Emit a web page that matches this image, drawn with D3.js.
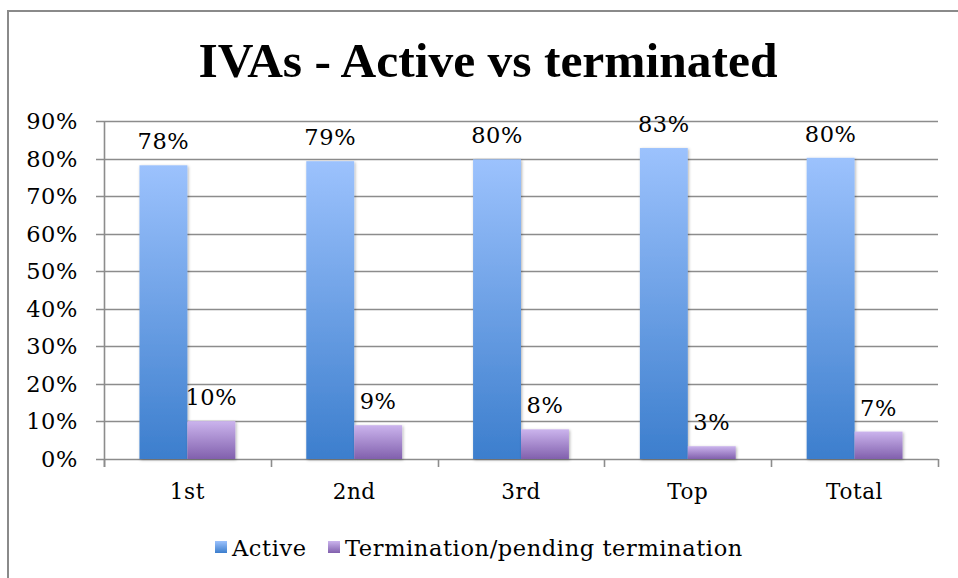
<!DOCTYPE html>
<html>
<head>
<meta charset="utf-8">
<script src="https://cdn.jsdelivr.net/npm/d3@7"></script>
<style>
  body { margin: 0; background: #fff; }
  svg { display: block; }
</style>
</head>
<body>
<div id="chart"></div>
<script>
// Chart data
var categories = ["1st", "2nd", "3rd", "Top", "Total"];
var seriesNames = ["Active", "Termination/pending termination"];
var activeValues = [0.782, 0.793, 0.798, 0.828, 0.802];
var terminatedValues = [0.101, 0.09, 0.079, 0.034, 0.073];
var yTicks = [0, 0.1, 0.2, 0.3, 0.4, 0.5, 0.6, 0.7, 0.8, 0.9];

var svgWidth = 958;
var svgHeight = 578;

var plot = { left: 104, right: 938, top: 121, bottom: 459 };

var svg = d3.select("#chart")
  .append("svg")
  .attr("width", svgWidth)
  .attr("height", svgHeight);

// gradients + shadow
var defs = svg.append("defs");
var gradA = defs.append("linearGradient").attr("id", "gradActive")
  .attr("x1", 0).attr("y1", 0).attr("x2", 0).attr("y2", 1);
gradA.append("stop").attr("offset", "0%").attr("stop-color", "#9cc2fd");
gradA.append("stop").attr("offset", "100%").attr("stop-color", "#3c7ecd");

var gradT = defs.append("linearGradient").attr("id", "gradTerm")
  .attr("x1", 0).attr("y1", 0).attr("x2", 0).attr("y2", 1);
gradT.append("stop").attr("offset", "0%").attr("stop-color", "#cbb4ed");
gradT.append("stop").attr("offset", "100%").attr("stop-color", "#8160ad");

var shadow = defs.append("filter").attr("id", "shadow")
  .attr("x", "-20%").attr("y", "-20%").attr("width", "150%").attr("height", "150%");
shadow.append("feDropShadow")
  .attr("dx", 1).attr("dy", 1).attr("stdDeviation", 1.5)
  .attr("flood-color", "#000").attr("flood-opacity", 0.3);

// outer frame
svg.append("rect")
  .attr("x", 8).attr("y", 11)
  .attr("width", 980).attr("height", 600)
  .attr("fill", "none")
  .attr("stroke", "#8a8a8a")
  .attr("stroke-width", 2);

// title
var title = svg.append("text")
  .attr("x", 488)
  .attr("y", 77)
  .attr("text-anchor", "middle")
  .style("font-family", "'Liberation Serif', serif")
  .style("font-weight", "bold")
  .style("font-size", "48px")
  .attr("fill", "#000")
  .text("IVAs - Active vs terminated");
var tw = title.node().getComputedTextLength();
title.style("font-size", (48 * 579 / tw) + "px");

// scales
var x0 = d3.scaleBand()
  .domain(categories)
  .range([plot.left, plot.right]);

var x1 = d3.scaleBand()
  .domain(seriesNames)
  .range([0, x0.bandwidth()])
  .paddingOuter(0.74);

var y = d3.scaleLinear()
  .domain([0, 0.9])
  .range([plot.bottom, plot.top]);

var labelFont = "'DejaVu Serif', serif";
var labelSize = "22.5px";
var labelSpacing = "0.6px";

// gridlines
svg.append("g")
  .selectAll("line")
  .data(yTicks)
  .enter()
  .append("line")
  .attr("x1", plot.left - 8)
  .attr("x2", plot.right)
  .attr("y1", d => Math.round(y(d)) + 0.5)
  .attr("y2", d => Math.round(y(d)) + 0.5)
  .attr("stroke", "#8c8c8c")
  .attr("stroke-width", 1.6);

// y axis line
svg.append("line")
  .attr("x1", plot.left + 0.5).attr("x2", plot.left + 0.5)
  .attr("y1", plot.top).attr("y2", plot.bottom + 8)
  .attr("stroke", "#8c8c8c")
  .attr("stroke-width", 1.6);

// y tick labels
svg.append("g")
  .selectAll("text")
  .data(yTicks)
  .enter()
  .append("text")
  .attr("x", 78)
  .attr("y", d => y(d) + 8)
  .attr("text-anchor", "end")
  .style("font-family", labelFont)
  .style("font-size", labelSize)
  .style("letter-spacing", labelSpacing)
  .attr("fill", "#000")
  .text(d3.format(".0%"));

// x category ticks
var boundaries = categories.map(c => x0(c)).concat([plot.right]);
svg.append("g")
  .selectAll("line")
  .data(boundaries)
  .enter()
  .append("line")
  .attr("x1", d => Math.round(d) + 0.5)
  .attr("x2", d => Math.round(d) + 0.5)
  .attr("y1", plot.bottom)
  .attr("y2", plot.bottom + 8)
  .attr("stroke", "#8c8c8c")
  .attr("stroke-width", 1.6);

// category labels
svg.append("g")
  .selectAll("text")
  .data(categories)
  .enter()
  .append("text")
  .attr("x", d => x0(d) + x0.bandwidth() / 2)
  .attr("y", 499)
  .attr("text-anchor", "middle")
  .style("font-family", labelFont)
  .style("font-size", "21.5px")
  .style("letter-spacing", labelSpacing)
  .attr("fill", "#000")
  .text(d => d);

// bar data
var barData = [];
categories.forEach(function(c, i) {
  barData.push({ cat: c, series: seriesNames[0], value: activeValues[i], fill: "url(#gradActive)" });
  barData.push({ cat: c, series: seriesNames[1], value: terminatedValues[i], fill: "url(#gradTerm)" });
});

svg.append("g")
  .selectAll("rect")
  .data(barData)
  .enter()
  .append("rect")
  .attr("x", d => x0(d.cat) + x1(d.series))
  .attr("y", d => y(d.value))
  .attr("width", x1.bandwidth())
  .attr("height", d => y(0) - y(d.value))
  .attr("fill", d => d.fill)
  .attr("filter", "url(#shadow)");

// value labels
svg.append("g")
  .selectAll("text")
  .data(barData)
  .enter()
  .append("text")
  .attr("x", d => x0(d.cat) + x1(d.series) + x1.bandwidth() / 2)
  .attr("y", d => y(d.value) - 16)
  .attr("text-anchor", "middle")
  .style("font-family", labelFont)
  .style("font-size", labelSize)
  .style("letter-spacing", labelSpacing)
  .attr("fill", "#000")
  .text(d => d3.format(".0%")(d.value));

// legend
var legend = svg.append("g");
var legendX = [215, 328];
var legendFills = ["url(#gradActive)", "url(#gradTerm)"];
seriesNames.forEach(function(name, i) {
  legend.append("rect")
    .attr("x", legendX[i])
    .attr("y", 541)
    .attr("width", 12)
    .attr("height", 12)
    .attr("fill", legendFills[i]);
  legend.append("text")
    .attr("x", legendX[i] + 17)
    .attr("y", 556)
    .style("font-family", labelFont)
    .style("font-size", labelSize)
    .style("letter-spacing", labelSpacing)
    .attr("fill", "#000")
    .text(name);
});
</script>
</body>
</html>
